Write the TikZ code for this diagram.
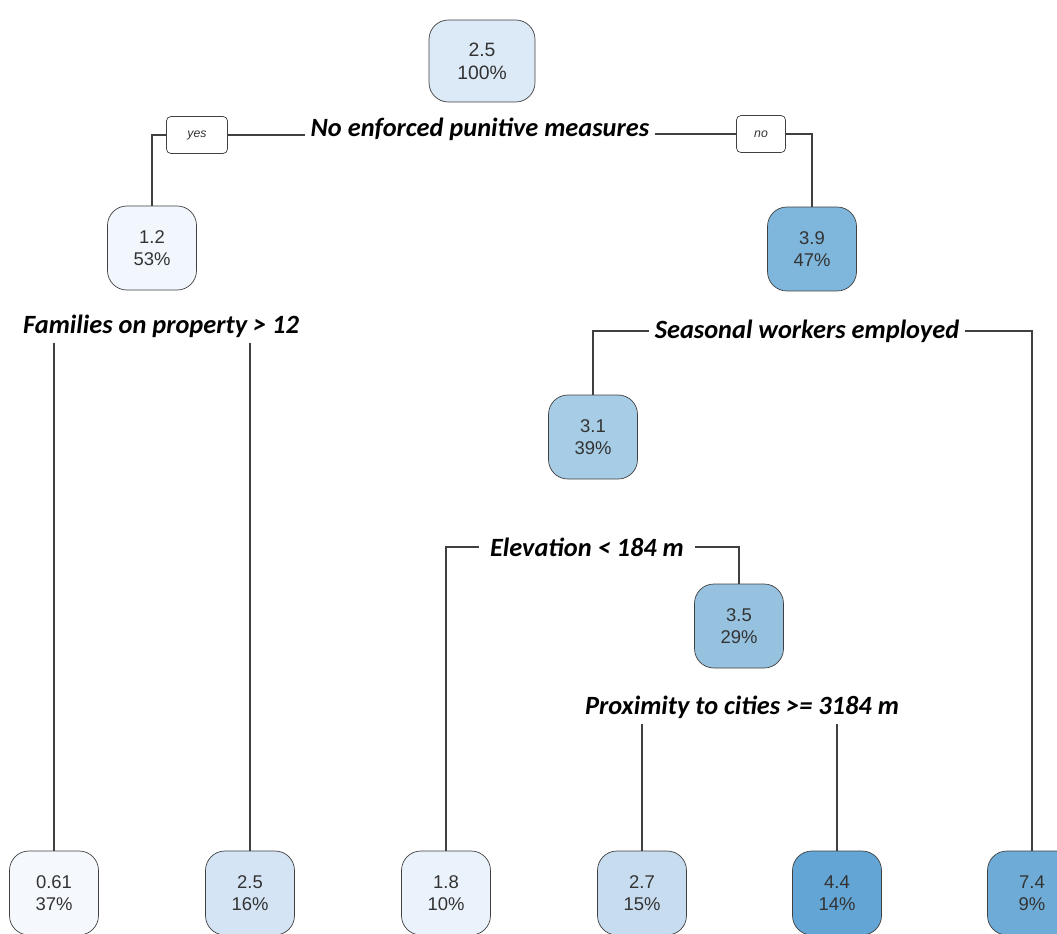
\documentclass[tikz,border=0pt]{standalone}
\usepackage{fontspec}
\setsansfont{Liberation Sans}
\newfontfamily\rulefont{Carlito}
\usepackage{xcolor}
\usepackage{tikz}
\definecolor{c25}{HTML}{DCE9F6}
\definecolor{c12}{HTML}{F2F7FD}
\definecolor{c39}{HTML}{7FB6DB}
\definecolor{c31}{HTML}{A7CCE5}
\definecolor{c35}{HTML}{96C2E0}
\definecolor{c061}{HTML}{F5F9FE}
\definecolor{c25b}{HTML}{D4E4F4}
\definecolor{c18}{HTML}{EAF2FB}
\definecolor{c27}{HTML}{C7DCEF}
\definecolor{c44}{HTML}{63A5D4}
\definecolor{c74}{HTML}{6EACD7}
\tikzset{
  box/.style={draw=black!75, rounded corners=11pt, align=center, font=\sffamily\fontsize{10.5}{12.5}\selectfont, text=black!80, minimum width=1.78cm, minimum height=1.68cm, inner sep=2pt},
  rule/.style={font=\rulefont\bfseries\itshape\fontsize{15}{17}\selectfont, inner sep=3pt},
  ynbox/.style={draw=black!75, rounded corners=2.5pt, font=\sffamily\itshape\fontsize{7}{8}\selectfont, text=black!80, minimum width=1.22cm, minimum height=0.74cm},
  link/.style={draw=black!75, line width=0.6pt}}

\begin{document}
\begin{tikzpicture}[x=0.02cm, y=-0.02cm]
  \useasboundingbox (0,0) rectangle (1057,933); \clip (0,0) rectangle (1057,933);
  \node[box, fill=c25, minimum width=2.12cm, minimum height=1.64cm, font=\sffamily\fontsize{11}{13}\selectfont] (root) at (482,61) {2.5\\100\%};
  \node[rule] (s1) at (480,129) {No enforced punitive measures};
  \node[ynbox] (yes) at (197,135) {yes};
  \node[ynbox, minimum width=0.98cm] (no) at (761,134) {no};
  \node[box, fill=c12] (n12) at (152,248) {1.2\\53\%};
  \node[box, fill=c39] (n39) at (812,249) {3.9\\47\%};
  \node[rule] (s2) at (161,326) {Families on property > 12};
  \node[rule] (s3) at (807,331) {Seasonal workers employed};
  \node[box, fill=c31] (n31) at (593,437) {3.1\\39\%};
  \node[rule, inner xsep=6pt] (s4) at (587,547) {Elevation < 184 m};
  \node[box, fill=c35] (n35) at (739,626) {3.5\\29\%};
  \node[rule] (s5) at (742,707) {Proximity to cities >= 3184 m};
  \node[box, fill=c061] (l1) at (54,893) {0.61\\37\%};
  \node[box, fill=c25b] (l2) at (250,893) {2.5\\16\%};
  \node[box, fill=c18] (l3) at (446,893) {1.8\\10\%};
  \node[box, fill=c27] (l4) at (642,893) {2.7\\15\%};
  \node[box, fill=c44] (l5) at (837,893) {4.4\\14\%};
  \node[box, fill=c74] (l6) at (1032,893) {7.4\\9\%};
  \draw[link] (yes.east) -- (yes.east -| s1.west); \draw[link] (yes.west) -| (n12.north);
  \draw[link] (no.west -| s1.east) -- (no.west); \draw[link] (no.east) -| (n39.north);
  \draw[link] (s2.south -| l1.north) -- (l1.north); \draw[link] (s2.south -| l2.north) -- (l2.north);
  \draw[link] (s3.west) -| (n31.north); \draw[link] (s3.east) -| (l6.north);
  \draw[link] (s4.west) -| (l3.north); \draw[link] (s4.east) -| (n35.north);
  \draw[link] (s5.south -| l4.north) -- (l4.north); \draw[link] (s5.south -| l5.north) -- (l5.north);
\end{tikzpicture}
\end{document}
